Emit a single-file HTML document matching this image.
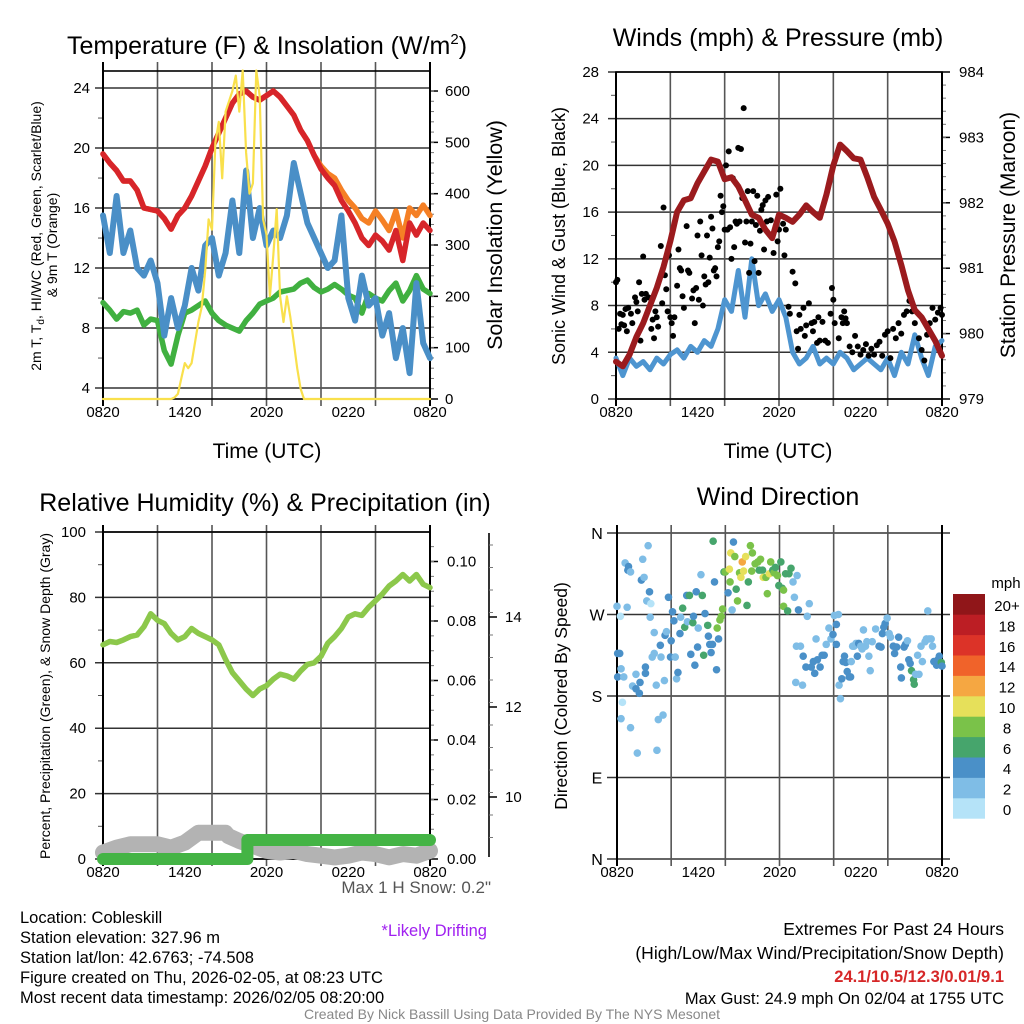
<!DOCTYPE html>
<html><head><meta charset="utf-8"><style>
body{margin:0;background:#fff}
svg{display:block;font-family:"Liberation Sans",Arial,sans-serif}
</style></head><body>
<svg id="c" width="1024" height="1024" viewBox="0 0 1024 1024" xmlns="http://www.w3.org/2000/svg">
<g id="g1"></g>
<g id="g2"></g>
<g id="g3"></g>
<g id="g4"></g>
<g font-size="25" text-anchor="middle">
<text x="267" y="54">Temperature (F) &amp; Insolation (W/m<tspan font-size="15" dy="-10">2</tspan><tspan dy="10">)</tspan></text>
<text x="778" y="46">Winds (mph) &amp; Pressure (mb)</text>
<text x="265" y="511">Relative Humidity (%) &amp; Precipitation (in)</text>
<text x="778" y="505">Wind Direction</text>
</g>
<g>
<text x="267" y="458" font-size="21" text-anchor="middle">Time (UTC)</text>
<text x="778" y="458" font-size="21" text-anchor="middle">Time (UTC)</text>
<text transform="translate(41,236) rotate(-90)" font-size="14" text-anchor="middle">2m T, T<tspan font-size="10" dy="3">d</tspan><tspan dy="-3">, HI/WC (Red, Green, Scarlet/Blue)</tspan></text>
<text transform="translate(57,245) rotate(-90)" font-size="14" text-anchor="middle">&amp; 9m T (Orange)</text>
<text transform="translate(502,235) rotate(-90)" font-size="21.5" text-anchor="middle">Solar Insolation (Yellow)</text>
<text transform="translate(565,236) rotate(-90)" font-size="18" text-anchor="middle">Sonic Wind &amp; Gust (Blue, Black)</text>
<text transform="translate(1015,235) rotate(-90)" font-size="21" text-anchor="middle">Station Pressure (Maroon)</text>
<text transform="translate(50,696) rotate(-90)" font-size="14" text-anchor="middle">Percent, Precipitation (Green), &amp; Snow Depth (Gray)</text>
<text transform="translate(567,696) rotate(-90)" font-size="17.5" text-anchor="middle">Direction (Colored By Speed)</text>
</g>
<g font-size="16.5">
<text x="20" y="923">Location: Cobleskill</text>
<text x="20" y="943">Station elevation: 327.96 m</text>
<text x="20" y="963">Station lat/lon: 42.6763; -74.508</text>
<text x="20" y="983">Figure created on Thu, 2026-02-05, at 08:23 UTC</text>
<text x="20" y="1003">Most recent data timestamp: 2026/02/05 08:20:00</text>
</g>
<text x="491" y="893" font-size="17" fill="#555" text-anchor="end">Max 1 H Snow: 0.2"</text>
<text x="487" y="936" font-size="16.5" fill="#a020f0" text-anchor="end">*Likely Drifting</text>
<g font-size="17.5" text-anchor="end">
<text x="1004" y="935">Extremes For Past 24 Hours</text>
<text x="1004" y="959">(High/Low/Max Wind/Precipitation/Snow Depth)</text>
<text x="1004" y="982" font-size="16.5" font-weight="bold" fill="#d62728">24.1/10.5/12.3/0.01/9.1</text>
<text x="1004" y="1004" font-size="16.5">Max Gust: 24.9 mph On 02/04 at 1755 UTC</text>
</g>
<text x="512" y="1019" font-size="14" fill="#888" text-anchor="middle">Created By Nick Bassill Using Data Provided By The NYS Mesonet</text>
</svg>
<script>
const NS='http://www.w3.org/2000/svg';
// ---------- data ----------
const timeLabels=['0820','1420','2020','0220','0820'];
const tempTicks=[4,8,12,16,20,24];
const solarTicks=[0,100,200,300,400,500,600];
const windTicks=[0,4,8,12,16,20,24,28];
const presTicks=[979,980,981,982,983,984];
const rhTicks=[0,20,40,60,80,100];
const precipTicks=['0.00','0.02','0.04','0.06','0.08','0.10'];
const snowTicks=[10,12,14];
const dirLabels=['N','E','S','W','N'];
const hh=[0,0.5,1,1.5,2,2.5,3,3.5,4,4.5,5,5.5,6,6.5,7,7.5,8,8.5,9,9.5,10,10.5,11,11.5,12,12.5,13,13.5,14,14.5,15,15.5,16,16.5,17,17.5,18,18.5,19,19.5,20,20.5,21,21.5,22,22.5,23,23.5,24];
const tempRed=[19.6,19,18.5,17.8,17.8,17.2,16.0,15.9,15.8,15.3,14.6,15.5,16.0,16.8,17.8,18.8,20.0,21.0,22.0,23.0,23.6,23.8,23.4,23.2,23.5,23.8,23.4,22.8,22.2,21.2,20.5,19.5,18.6,18.0,17.5,16.5,15.8,15.0,14.0,13.5,14.2,13.8,13.2,14.5,12.5,15.0,14.2,15.0,14.5];
const temp9m=[19.6,19,18.5,17.8,17.8,17.2,16.0,15.9,15.8,15.3,14.6,15.5,16.0,16.8,17.8,18.8,20.0,21.0,22.0,23.0,23.6,23.8,23.4,23.2,23.5,23.8,23.4,22.8,22.2,21.2,20.5,19.5,18.8,18.3,18.0,17.2,16.5,16.0,15.3,15.0,15.8,15.2,14.5,15.8,14.0,16.0,15.5,16.2,15.5];
const dewGreen=[9.7,9.2,8.6,9.1,9.0,9.2,8.2,8.6,8.5,6.5,5.6,7.5,9.0,9.2,9.5,9.8,9.0,8.5,8.2,8.0,7.8,8.5,9.0,9.6,9.8,10.0,10.4,10.5,10.6,11.0,11.2,10.7,10.4,10.6,10.9,10.6,10.2,10.0,9.0,10.3,10.0,9.8,10.5,11.0,9.8,10.5,11.5,10.6,10.3];
const wcBlue=[15.5,13.0,16.8,13.0,14.5,12.0,11.5,12.5,11.0,7.5,10.0,8.0,9.5,12.0,10.5,13.5,14.0,11.5,13.0,16.5,13.0,18.5,14.0,16.0,13.5,14.5,14.0,15.5,19.0,17.0,15.0,14.0,13.0,12.0,12.5,15.5,10.0,8.5,11.5,9.5,10.0,7.5,9.0,6.0,8.0,5.0,11.0,7.0,6.0];
const solarT=[0,5,5.25,5.5,5.75,6,6.25,6.5,6.75,7,7.25,7.5,7.75,8,8.25,8.5,8.75,9,9.25,9.5,9.75,10,10.25,10.5,10.75,11,11.25,11.5,11.75,12,12.25,12.5,12.75,13,13.25,13.5,13.75,14,14.25,14.5,14.75,24];
const solarW=[0,0,3,10,40,70,60,70,110,150,180,250,350,330,500,540,430,560,580,600,630,560,640,480,400,420,640,590,350,320,200,280,370,200,150,200,160,110,60,20,0,0];
const windBlue=[3.5,2.0,3.5,2.8,3.2,2.5,3.5,3.0,3.8,4.2,3.5,4.5,4.0,5.0,4.5,6.0,8.5,7.5,11.0,7.0,12.0,8.0,9.0,7.5,8.5,7.0,4.0,3.0,3.5,4.5,3.0,3.5,3.0,4.0,3.5,2.5,3.0,3.5,3.0,2.5,3.5,2.0,4.0,3.0,5.5,3.5,2.0,4.5,5.0];
const pressureMb=[979.57,979.50,979.68,979.95,980.16,980.43,980.70,981.02,981.41,981.86,982.04,982.07,982.30,982.48,982.66,982.63,982.36,982.39,982.25,982.04,981.82,981.77,981.59,981.46,981.82,981.77,981.71,981.82,981.96,981.86,981.77,982.13,982.57,982.89,982.79,982.68,982.66,982.39,982.09,981.89,981.68,981.41,981.05,980.66,980.36,980.25,980.07,979.89,979.66];
const gustT=[0,0.1,0.2,0.3,0.4,0.5,0.6,0.8,0.7,0.9,1.1,1.2,1.4,1.5,1.6,1.7,1.8,1.9,2.0,2.1,2.2,2.4,2.6,2.7,2.8,2.9,3.0,3.1,3.3,3.4,3.5,3.6,3.7,3.8,3.9,4.0,4.1,4.2,4.3,4.5,4.6,4.7,4.8,4.9,5.0,5.2,5.3,5.4,5.6,5.7,5.8,5.9,6.0,6.1,6.2,6.3,6.4,6.5,6.6,6.7,6.8,6.9,7.0,7.1,7.2,7.3,7.4,7.5,7.6,7.7,7.8,7.9,8.0,8.1,8.2,8.3,8.4,8.5,8.6,8.7,8.8,8.9,9.0,9.1,9.2,9.3,9.4,9.5,9.6,9.7,9.8,9.9,10.0,10.1,10.2,10.3,10.4,10.5,10.6,10.7,10.8,10.9,11.0,11.1,11.2,11.4,11.6,11.8,11.9,12.0,12.1,12.3,12.4,12.5,12.7,12.8,13.0,13.2,13.3,13.4,13.5,13.6,13.8,13.9,14.0,14.2,14.4,14.5,14.6,14.8,14.9,15.0,15.2,15.4,15.6,15.8,15.9,16.0,16.1,16.4,16.6,16.7,16.8,16.9,17.0,17.2,17.4,17.6,17.8,18.0,18.2,18.4,18.6,18.8,19.0,19.2,19.4,19.6,19.8,20.0,20.2,20.4,20.6,20.8,21.0,21.2,21.4,21.6,21.8,22.0,22.3,22.5,22.7,22.9,23.1,23.3,23.5,23.7,23.9,24];
const gustMph=[10,10.2,6,7.3,6.4,7.2,6.3,5.8,7.7,7.8,7.3,6.5,8.7,8.3,7.5,10,5,9,12.2,8.5,9,8.7,6,6.8,5.2,7.5,7,6.2,13.1,8.2,16.4,10.6,9.4,7.5,12.3,7,6.5,5.4,7,9.7,12.8,11.2,11,8.8,7.8,14.8,11,10.8,8.6,9.3,6.5,9.5,14,8.5,15.2,12.3,8,10.5,9.8,14,10,12.1,15.6,14.6,11,11.2,10.5,13,13.5,17.4,16,16.5,14.5,20,14.5,21.2,14.7,12,18.9,13,15.2,15,21.5,15.2,21.4,17.2,24.9,13.4,15.2,17.8,10.8,13.3,15.2,17.8,11.8,14.9,17.4,10.8,14.4,16.2,16.6,12.8,17.0,15.2,17.3,15.3,12.5,17.5,13.5,14.5,18,15,12.3,14.5,7.9,7.3,10.9,9.9,5.8,4.3,7.2,6,7.8,5.4,6.3,8.2,6.5,5.8,6.6,4.8,7,5,6.6,5,4.8,7.3,9.5,8.5,6.5,5.2,7,6.5,7.5,6.9,6.5,4.5,4,5.4,4.5,3.8,4.2,4.7,3.7,4.3,3.8,4.6,4.9,3.7,5.5,5.8,3.5,6,5.2,6.5,5.6,7.2,7.5,8.4,7.5,6.5,5.2,4.2,3.3,5.5,6.5,7.8,6.8,7.4,7.8,7.2];
const rhPct=[65.5,66.5,66.2,67,68,68.5,71,75,73,72,69,67,68,70.5,69,68,67,65.5,61,57,54.5,52,50,52,53,55,56.5,56,55,57.5,59.5,60,62,66,68,70.5,74,75,74.5,77,79,81,83.5,85,87,85,87,84,83];
const precipT=[0,10.6,10.6,24];
const precipIn=[0,0,0.0064,0.0064];
const snowT=[0,1,2,3,4,5,6,7,8,9,9.2,10,11,12,13,14,15,16,17,18,19,20,21,22,23,24];
const snowPct=[2,3.5,4.5,4.5,4.5,3.5,5,8,8,8,7,5.5,4,2.5,2,2.5,1.5,1,0.5,1,2,1.5,0.5,1.5,1,2.5];
const dirObs=[[0,279,2.5],[0.05,227,4.5],[0.2,227,4.5],[0.05,201,4.5],[0.3,210,2.5],[0.25,268,1],[0.4,173,0.5],[0.3,155,2.5],[0.5,201,2.5],[0.6,327,2.5],[0.8,319,4.5],[0.85,323,4.5],[0.75,278,2.5],[1.0,317,2.5],[1.0,145,2.5],[1.15,191,2.5],[1.4,188,4.5],[1.4,204,2.5],[1.5,117,2.5],[1.65,183,4.5],[1.7,195,4.5],[1.8,308,4.5],[1.9,331,2.5],[2.0,311,2.5],[2.1,205,4.5],[2.1,212,4.5],[2.2,285,2.5],[2.3,346,2.5],[2.4,295,4.5],[2.5,282,0.5],[2.45,267,2.5],[2.6,223,2.5],[2.75,250,2.5],[2.75,227,2.5],[2.9,192,2.5],[2.95,120,2.5],[3.05,154,2.5],[3.2,236,4.5],[3.25,223,2.5],[3.4,159,2.5],[3.5,197,2.5],[3.55,247,4.5],[3.65,251,2.5],[3.8,289,4.5],[3.95,223,4.5],[4.0,241,4.5],[4.1,273,4.5],[4.2,263,4.5],[4.3,223,2.5],[4.4,199,2.5],[4.5,206,4.5],[4.65,249,4.5],[4.7,267,2.5],[4.85,277,6.5],[5.0,256,6.5],[5.15,291,4.5],[5.2,262,2.5],[5.35,291,6.5],[5.45,226,4.5],[5.6,261,6.5],[5.65,268,4.5],[5.75,214,4.5],[5.85,295,4.5],[5.95,234,4.5],[6.0,255,2.5],[6.2,314,2.5],[6.3,291,6.5],[6.4,225,6.5],[6.5,271,4.5],[6.7,258,6.5],[6.75,246,4.5],[6.85,237,4.5],[6.95,228,4.5],[7.05,237,4.5],[7.1,351,6.5],[7.2,306,4.5],[7.35,209,4.5],[7.4,255,8.5],[7.5,243,4.5],[7.6,264,8.5],[7.7,268,8.5],[7.8,276,8.5],[7.9,317,6.5],[8.0,317,8.5],[8.2,294,4.5],[8.3,320,10.5],[8.35,306,8.5],[8.4,338,10.5],[8.5,275,2.5],[8.6,350,4.5],[8.7,334,8.5],[8.8,298,6.5],[8.9,285,8.5],[9.05,316,8.5],[9.15,311,10.5],[9.25,328,12.5],[9.35,318,10.5],[9.5,334,10.5],[9.6,280,6.5],[9.7,306,6.5],[9.85,346,8.5],[9.95,318,8.5],[10.0,338,8.5],[10.2,326,8.5],[10.4,328,8.5],[10.5,319,6.5],[10.6,331,8.5],[10.75,319,6.5],[10.8,311,10.5],[11.0,311,8.5],[11.1,293,8.5],[11.25,315,10.5],[11.35,328,8.5],[11.5,319,6.5],[11.6,316,8.5],[11.7,322,6.5],[11.85,313,8.5],[11.95,302,6.5],[12.1,328,6.5],[12.2,299,6.5],[12.3,297,8.5],[12.3,279,8.5],[12.45,315,6.5],[12.6,274,6.5],[12.7,315,6.5],[12.85,321,6.5],[13.0,306,2.5],[13.1,289,2.5],[13.3,313,2.5],[13.4,275,4.5],[13.2,195,2.5],[13.25,235,2.5],[13.55,235,2.5],[13.7,192,2.5],[13.75,224,4.5],[13.95,212,4.5],[14.05,268,2.5],[14.2,282,2.5],[14.35,212,4.5],[14.5,218,4.5],[14.6,205,4.5],[14.7,243,2.5],[14.8,220,4.5],[15.0,212,4.5],[15.15,225,4.5],[15.3,225,4.5],[15.45,237,2.5],[15.65,255,2.5],[15.8,243,2.5],[15.95,248,4.5],[16.05,269,2.5],[16.2,259,4.5],[16.2,237,4.5],[16.35,270,2.5],[16.4,192,2.5],[16.5,177,2.5],[16.6,199,4.5],[16.7,218,4.5],[16.8,224,4.5],[16.9,217,4.5],[17.0,207,4.5],[17.15,201,4.5],[17.25,201,4.5],[17.3,218,2.5],[17.4,235,2.5],[17.5,235,2.5],[17.65,238,2.5],[17.75,224,4.5],[17.85,238,4.5],[18.0,235,2.5],[18.1,232,2.5],[18.2,253,2.5],[18.35,235,2.5],[18.45,240,2.5],[18.6,224,2.5],[18.7,208,2.5],[18.85,240,2.5],[19.1,254,2.5],[19.35,235,4.5],[19.5,234,4.5],[19.6,249,4.5],[19.7,256,4.5],[19.8,260,4.5],[19.95,266,2.5],[20.1,249,2.5],[20.2,245,2.5],[20.4,235,4.5],[20.5,227,4.5],[20.65,234,4.5],[20.8,245,4.5],[20.95,212,4.5],[21.0,200,4.5],[21.2,234,4.5],[21.3,237,4.5],[21.45,241,2.5],[21.55,220,4.5],[21.65,216,4.5],[21.75,208,6.5],[21.9,198,6.5],[21.95,193,6.5],[22.05,204,2.5],[22.2,225,2.5],[22.3,204,2.5],[22.45,235,2.5],[22.55,218,2.5],[22.75,240,2.5],[22.85,243,2.5],[22.95,274,2.5],[23.05,243,2.5],[23.2,243,2.5],[23.3,235,2.5],[23.4,218,4.5],[23.6,214,4.5],[23.7,220,4.5],[23.8,224,4.5],[23.95,217,6.5],[24,213,4.5]];
const speedBins=['0','2','4','6','8','10','12','14','16','18','20+'];
const speedColors=['#b5e3f8','#7fbde6','#4a90c8','#46a56c','#7ac249','#e6e05a','#f5a742','#f0632a','#dc3328','#bc1e24','#901619'];

// ---------- helpers ----------
function mk(parent,tag,attrs){const e=document.createElementNS(NS,tag);for(const k in attrs)e.setAttribute(k,attrs[k]);parent.appendChild(e);return e;}
function txt(parent,x,y,s,size,anchor){const e=mk(parent,'text',{x:x,y:y,'font-size':size,'text-anchor':anchor||'middle'});e.textContent=s;return e;}
function poly(parent,xs,ys,fx,fy,color,w){let d='';for(let i=0;i<xs.length;i++)d+=(i?'L':'M')+fx(xs[i]).toFixed(1)+','+fy(ys[i]).toFixed(1);return mk(parent,'path',{d:d,fill:'none',stroke:color,'stroke-width':w,'stroke-linejoin':'round','stroke-linecap':'round'});}
function frame(g,x0,x1,yt,yb,topExt){
  for(let i=0;i<=6;i++){const x=x0+(x1-x0)*i/6;const l=mk(g,'line',{x1:x,x2:x,y1:yt-topExt,y2:yb+7,stroke:i%6?'#555':'#000','stroke-width':i%6?1.6:2});
  }
  const r=mk(g,'rect',{x:x0,y:yt,width:x1-x0,height:yb-yt,fill:'none',stroke:'#000','stroke-width':1.6});
  
  timeLabels.forEach((s,i)=>{const t=txt(g,x0+(x1-x0)*i/4,yb+18,s,15);});
}
function hline(g,x0,x1,y,c){const l=mk(g,'line',{x1:x0,x2:x1,y1:y,y2:y,stroke:c||'#333','stroke-width':1.5});}

// ---------- panel 1 ----------
(function(){const g=document.getElementById('g1');const x0=103,x1=430,yt=71,yb=399;
 const fx=t=>x0+(x1-x0)*t/24, fy=v=>yb-(v-3.27)*15, fs=s=>yb-s*0.5133;
 tempTicks.forEach(v=>{hline(g,x0-8,x1,fy(v));const t=txt(g,x0-13,fy(v)+5,String(v),15,'end');});
 for(let v=6;v<25;v+=4)mk(g,'line',{x1:x0-5,x2:x0,y1:fy(v),y2:fy(v),stroke:'#555'});
 solarTicks.forEach(v=>{mk(g,'line',{x1:x1,x2:x1+8,y1:fs(v),y2:fs(v),stroke:'#000','stroke-width':1.5});const t=txt(g,x1+15,fs(v)+5,String(v),15,'start');});
 for(let v=20;v<620;v+=20)mk(g,'line',{x1:x1,x2:x1+4,y1:fs(v),y2:fs(v),stroke:'#777'});
 frame(g,x0,x1,yt,yb,9);
 let e;
 e=poly(g,hh,dewGreen,fx,fy,'#40b040',5.5);
 e=poly(g,hh,temp9m,fx,fy,'#f58025',5.5);
 e=poly(g,hh,tempRed,fx,fy,'#d7252a',5.5);
 e=poly(g,hh,wcBlue,fx,fy,'#4a8fc7',6);
 e=poly(g,solarT,solarW,fx,fs,'#f9e04c',2.2);
})();

// ---------- panel 2 ----------
(function(){const g=document.getElementById('g2');const x0=616,x1=942,yt=72,yb=399;
 const fx=t=>x0+(x1-x0)*t/24, fy=v=>yb-v*11.68, fp=p=>yb-(p-979)*65.4;
 windTicks.forEach(v=>{hline(g,x0-8,x1,fy(v));const t=txt(g,x0-17,fy(v)+5,String(v),15,'end');});
 for(let v=2;v<28;v+=4)mk(g,'line',{x1:x0-5,x2:x0,y1:fy(v),y2:fy(v),stroke:'#555'});
 presTicks.forEach(v=>{mk(g,'line',{x1:x1,x2:x1+8,y1:fp(v),y2:fp(v),stroke:'#000','stroke-width':1.5});const t=txt(g,x1+17,fp(v)+5,String(v),15,'start');});
 for(let v=979.2;v<984;v+=0.2)mk(g,'line',{x1:x1,x2:x1+4,y1:fp(v),y2:fp(v),stroke:'#777'});
 frame(g,x0,x1,yt,yb,0);
 let e=poly(g,hh,windBlue,fx,fy,'#4e95d0',5);
 gustT.forEach((t,i)=>{const c=mk(g,'circle',{cx:fx(t),cy:fy(gustMph[i]),r:3,fill:'#000'});
  
  });
 e=poly(g,hh,pressureMb,fx,fp,'#9b1b1e',6);
})();

// ---------- panel 3 ----------
(function(){const g=document.getElementById('g3');const x0=103,x1=430,yt=532,yb=859;
 const fx=t=>x0+(x1-x0)*t/24, fy=v=>yb-v*3.27, fq=q=>yb-q*2975;
 rhTicks.forEach(v=>{hline(g,x0-8,x1,fy(v));const t=txt(g,x0-17,fy(v)+5,String(v),15,'end');});
 for(let v=10;v<100;v+=20)mk(g,'line',{x1:x0-5,x2:x0,y1:fy(v),y2:fy(v),stroke:'#555'});
 precipTicks.forEach(s=>{const q=parseFloat(s);mk(g,'line',{x1:x1,x2:x1+8,y1:fq(q),y2:fq(q),stroke:'#000','stroke-width':1.5});const t=txt(g,x1+17,fq(q)+5,s,15,'start');});
 for(let q=0.005;q<0.11;q+=0.005)mk(g,'line',{x1:x1,x2:x1+4,y1:fq(q),y2:fq(q),stroke:'#777'});
 // snow depth axis
 const sx=489, fsn=s=>617+(14-s)*45;
 mk(g,'line',{x1:sx,x2:sx,y1:533,y2:857,stroke:'#000','stroke-width':1.6});
 snowTicks.forEach(s=>{mk(g,'line',{x1:sx,x2:sx+8,y1:fsn(s),y2:fsn(s),stroke:'#000','stroke-width':1.5});const t=txt(g,sx+16,fsn(s)+5,String(s),15,'start');});
 for(let s=8.6;s<16;s+=0.5){const y=fsn(s);if(y>535&&y<856)mk(g,'line',{x1:sx,x2:sx+4,y1:y,y2:y,stroke:'#777'});}
 frame(g,x0,x1,yt,yb,7);
 let e=poly(g,snowT,snowPct,fx,fy,'#b3b3b3',16);
 e=poly(g,precipT,precipIn,fx,fq,'#44b445',12);
 e=poly(g,hh,rhPct,fx,fy,'#8cc84b',5.5);
})();

// ---------- panel 4 ----------
(function(){const g=document.getElementById('g4');const x0=617,x1=942,yt=533,yb=859;
 const fx=t=>x0+(x1-x0)*t/24, fy=d=>yb-d*(yb-yt)/360;
 dirLabels.forEach((s,i)=>{const y=fy(i*90);hline(g,x0-10,x1+8,y);const t=txt(g,x0-20,y+6,s,16,'middle');});
 frame(g,x0,x1,yt,yb,8);
 g.querySelectorAll('rect').forEach(r=>r.setAttribute('stroke','none'));
 mk(g,'line',{x1:x0,x2:x0,y1:yt,y2:yb,stroke:'#000','stroke-width':2});
 dirObs.forEach(o=>{const bi=Math.min(10,Math.floor(o[2]/2));const c=mk(g,'circle',{cx:fx(o[0]),cy:fy(o[1]),r:3.8,fill:speedColors[bi]});
  
  });
 // colorbar
 const cb=mk(g,'g',{});
 const t0=txt(cb,1006,588,'mph',15,'middle');
 const by=594,bh=20.4;
 speedBins.forEach((s,i)=>{const y=by+(10-i)*bh;const r=mk(cb,'rect',{x:953,y:y,width:32,height:bh+0.3,fill:speedColors[i]});
  
  const t=txt(cb,1007,y+17,s,15,'middle');});
})();
</script>
</body></html>
